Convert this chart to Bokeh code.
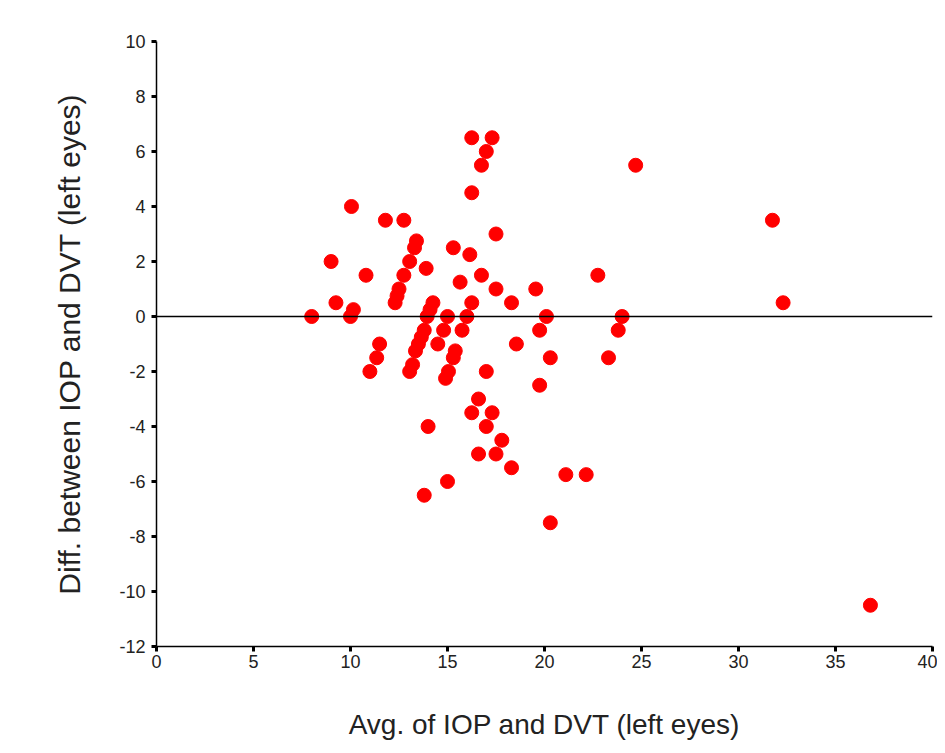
from bokeh.plotting import figure
from bokeh.models import FixedTicker, Span, Range1d
from bokeh.embed import file_html
from bokeh.resources import INLINE

avg = [8.0, 9.0, 9.25, 10.05, 10.0, 10.15, 10.8, 11.0, 11.35, 11.5,
       11.8, 12.75, 12.5, 12.4, 12.3, 12.75, 13.05, 13.3, 13.4, 13.9,
       13.2, 13.05, 13.8, 13.65, 13.5, 13.35, 13.95, 14.1, 14.25, 14.0,
       13.8, 14.5, 14.8, 15.0, 15.05, 14.9, 15.0, 15.3, 15.4, 15.3,
       15.65, 15.75, 16.0, 16.15, 16.25, 16.25, 16.25, 16.25, 16.6, 16.6,
       16.75, 16.75, 17.0, 17.0, 17.0, 17.3, 17.3, 17.5, 17.5, 17.5,
       17.8, 18.3, 18.55, 18.3, 19.55, 19.75, 19.75, 20.1, 20.3, 20.3,
       21.1, 22.15, 22.75, 23.3, 23.8, 24.0, 24.7, 31.75, 32.3, 36.8]
diff = [0.0, 2.0, 0.5, 4.0, 0.0, 0.25, 1.5, -2.0, -1.5, -1.0,
        3.5, 3.5, 1.0, 0.75, 0.5, 1.5, 2.0, 2.5, 2.75, 1.75,
        -1.75, -2.0, -0.5, -0.75, -1.0, -1.25, 0.0, 0.25, 0.5, -4.0,
        -6.5, -1.0, -0.5, 0.0, -2.0, -2.25, -6.0, 2.5, -1.25, -1.5,
        1.25, -0.5, 0.0, 2.25, 0.5, 4.5, 6.5, -3.5, -3.0, -5.0,
        5.5, 1.5, 6.0, -2.0, -4.0, 6.5, -3.5, 3.0, 1.0, -5.0,
        -4.5, 0.5, -1.0, -5.5, 1.0, -0.5, -2.5, 0.0, -1.5, -7.5,
        -5.75, -5.75, 1.5, -1.5, -0.5, 0.0, 5.5, 3.5, 0.5, -10.5]

x_ticks = [0, 5, 10, 15, 20, 25, 30, 35, 40]
y_ticks = [-12, -10, -8, -6, -4, -2, 0, 2, 4, 6, 8, 10]

FONT = "Liberation Sans"

p = figure(width=937, height=745, output_backend="svg", toolbar_location=None,
           x_range=Range1d(0, 40), y_range=Range1d(-12, 10),
           min_border_left=156, min_border_right=5,
           min_border_top=41, min_border_bottom=99)
p.outline_line_color = None
p.xgrid.visible = False
p.ygrid.visible = False
p.background_fill_color = "white"
p.border_fill_color = "white"

zero = Span(location=0, dimension="width", line_color="black", line_width=1.5)
p.add_layout(zero)

p.scatter(avg, diff, size=14, marker="circle", fill_color="#ff0000",
          line_color="#ff0000")

p.xaxis.axis_line_color = "black"
p.yaxis.axis_line_color = "black"
p.xaxis.axis_line_width = 1.5
p.yaxis.axis_line_width = 1.5
p.xaxis.major_tick_line_color = "black"
p.yaxis.major_tick_line_color = "black"
p.xaxis.major_tick_line_width = 3
p.yaxis.major_tick_line_width = 3
p.xaxis.major_tick_in = 0
p.yaxis.major_tick_in = 0
p.xaxis.major_tick_out = 5
p.yaxis.major_tick_out = 5
p.xaxis.minor_tick_line_color = None
p.yaxis.minor_tick_line_color = None
p.xaxis.major_label_text_font = FONT
p.yaxis.major_label_text_font = FONT
p.xaxis.major_label_text_font_size = "18px"
p.yaxis.major_label_text_font_size = "18px"
p.xaxis.major_label_text_color = "#222222"
p.yaxis.major_label_text_color = "#222222"
p.xaxis.axis_label_text_font = FONT
p.yaxis.axis_label_text_font = FONT
p.xaxis.axis_label_text_font_style = "normal"
p.yaxis.axis_label_text_font_style = "normal"
p.xaxis.axis_label_text_color = "#222222"
p.yaxis.axis_label_text_color = "#222222"

p.xaxis.ticker = FixedTicker(ticks=x_ticks)
p.yaxis.ticker = FixedTicker(ticks=y_ticks)
p.xaxis.major_label_overrides = {t: str(t) for t in x_ticks}
p.yaxis.major_label_overrides = {t: str(t) for t in y_ticks}
p.xaxis.axis_label = "Avg. of IOP and DVT (left eyes)"
p.yaxis.axis_label = "Diff. between IOP and DVT (left eyes)"
p.xaxis.axis_label_text_font_size = "28px"
p.yaxis.axis_label_text_font_size = "30px"
p.xaxis.major_label_standoff = 3
p.yaxis.major_label_standoff = 6
p.xaxis.axis_label_standoff = 38
p.yaxis.axis_label_standoff = 30

open("out.html", "w").write(file_html(p, INLINE))
